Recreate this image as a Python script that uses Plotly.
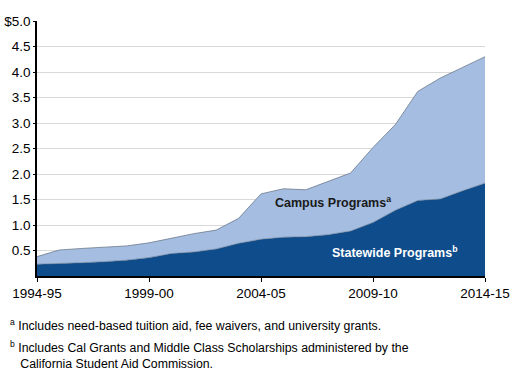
import plotly.graph_objects as go

years = ["1994-95", "1995-96", "1996-97", "1997-98", "1998-99", "1999-00", "2000-01",
         "2001-02", "2002-03", "2003-04", "2004-05", "2005-06", "2006-07", "2007-08",
         "2008-09", "2009-10", "2010-11", "2011-12", "2012-13", "2013-14", "2014-15"]
statewide = [0.23, 0.24, 0.26, 0.28, 0.31, 0.36, 0.44, 0.47, 0.53, 0.64, 0.72,
             0.76, 0.77, 0.81, 0.88, 1.05, 1.29, 1.48, 1.51, 1.67, 1.82]
campus = [0.15, 0.27, 0.28, 0.28, 0.28, 0.29, 0.30, 0.36, 0.37, 0.49, 0.89,
          0.95, 0.92, 1.05, 1.14, 1.47, 1.68, 2.14, 2.37, 2.42, 2.48]
x_ticks = ["1994-95", "1999-00", "2004-05", "2009-10", "2014-15"]
y_ticks = [0.5, 1.0, 1.5, 2.0, 2.5, 3.0, 3.5, 4.0, 4.5, 5.0]
y_ticktext = ["0.5", "1.0", "1.5", "2.0", "2.5", "3.0", "3.5", "4.0", "4.5", "$5.0"]

FONT = "Liberation Sans, Arial, sans-serif"
L, R, T, B = 37, 485, 21, 276
PW, PH = R - L, B - T


def px(xp):
    return (xp - L) / PW


def py(yp):
    return (B - yp) / PH


fig = go.Figure()
fig.add_trace(go.Scatter(x=years, y=statewide, stackgroup="one", mode="lines",
                         line=dict(color="#5d6e84", width=0.6),
                         fillcolor="#0e4c8b", name="Statewide Programs", hoverinfo="skip"))
fig.add_trace(go.Scatter(x=years, y=campus, stackgroup="one", mode="lines",
                         line=dict(color="#6c7a8c", width=0.8),
                         fillcolor="#a4bde1", name="Campus Programs", hoverinfo="skip"))

fig.update_layout(
    width=517, height=384,
    margin=dict(l=L, r=517 - R, t=T, b=384 - B),
    paper_bgcolor="white", plot_bgcolor="white",
    showlegend=False,
    font=dict(family=FONT, size=14, color="black"),
    xaxis=dict(type="category", range=[0, 20], tickmode="array", tickvals=x_ticks,
               ticktext=x_ticks, showgrid=False, showline=True, linecolor="black",
               linewidth=1.5, ticks="outside", ticklen=4, tickcolor="black",
               tickfont=dict(size=13.5), zeroline=False, automargin=False),
    yaxis=dict(range=[0, 5], tickmode="array", tickvals=y_ticks, ticktext=y_ticktext,
               showgrid=True, gridcolor="#d9d9d9", gridwidth=1, showline=True,
               linecolor="black", linewidth=1.5, ticks="outside", ticklen=2,
               tickcolor="black", tickfont=dict(size=13.5), zeroline=False,
               automargin=False),
)

fig.add_annotation(x=px(273), y=py(202), xref="paper", yref="paper", xanchor="left",
                   yanchor="middle", text="<b>Campus Programs<sup>a</sup></b>",
                   showarrow=False, font=dict(size=12.5, color="#1a1a1a", family=FONT))
fig.add_annotation(x=px(330), y=py(252), xref="paper", yref="paper", xanchor="left",
                   yanchor="middle", text="<b>Statewide Programs<sup>b</sup></b>",
                   showarrow=False, font=dict(size=12.5, color="white", family=FONT))

fig.add_annotation(x=px(8), y=py(325), xref="paper", yref="paper", xanchor="left",
                   yanchor="middle", showarrow=False, align="left",
                   text="<sup>a</sup> Includes need-based tuition aid, fee waivers, and university grants.",
                   font=dict(size=12.3, family=FONT))
fig.add_annotation(x=px(8), y=py(355), xref="paper", yref="paper", xanchor="left",
                   yanchor="middle", showarrow=False, align="left",
                   text="<sup>b</sup> Includes Cal Grants and Middle Class Scholarships administered by the<br>   California Student Aid Commission.",
                   font=dict(size=12.3, family=FONT))

fig.write_html("out.html", config={"displayModeBar": False},
               post_script="document.body.style.margin='0';document.body.style.overflow='hidden';")
